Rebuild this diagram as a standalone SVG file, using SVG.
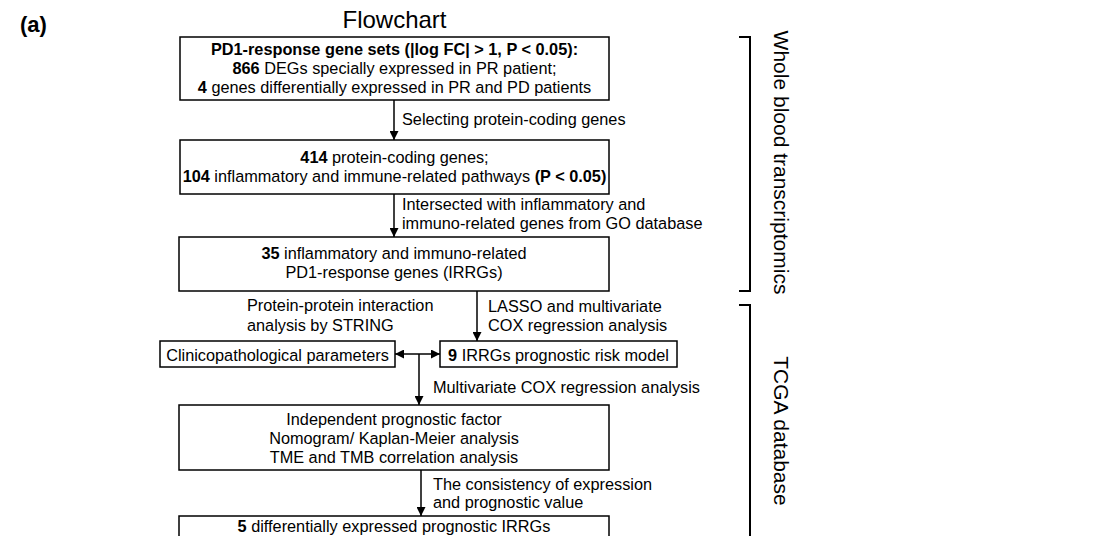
<svg xmlns="http://www.w3.org/2000/svg" width="1104" height="536" viewBox="0 0 1104 536">
<style>
text{font-family:"Liberation Sans",Arial,sans-serif;fill:#000}
.t{font-size:16.3px}
.c{text-anchor:middle}
.b{font-weight:bold}
.box{fill:#fff;stroke:#000;stroke-width:1.5}
.ln{fill:none;stroke:#000;stroke-width:1.5}
.br{fill:none;stroke:#000;stroke-width:2}
.side{font-size:21px;text-anchor:middle}
</style>
<defs>
<marker id="ah" viewBox="0 0 10 10" refX="10" refY="5" markerWidth="9" markerHeight="9" markerUnits="userSpaceOnUse" orient="auto-start-reverse">
<path d="M0,0 L10,5 L0,10 z" fill="#000"/>
</marker>
</defs>
<rect width="1104" height="536" fill="#fff"/>
<text x="20" y="32" font-size="22" class="b">(a)</text>
<text x="394.5" y="28" font-size="24" class="c">Flowchart</text>

<g id="connectors">
<line class="ln" x1="394" y1="100" x2="394" y2="140" marker-end="url(#ah)"/>
<line class="ln" x1="394" y1="194" x2="394" y2="237" marker-end="url(#ah)"/>
<line class="ln" x1="477" y1="291" x2="477" y2="341" marker-end="url(#ah)"/>
<line class="ln" x1="395" y1="354" x2="440" y2="354" marker-start="url(#ah)" marker-end="url(#ah)"/>
<line class="ln" x1="419" y1="354" x2="419" y2="405" marker-end="url(#ah)"/>
<line class="ln" x1="421" y1="470" x2="421" y2="516" marker-end="url(#ah)"/>
<text class="t" x="402" y="125">Selecting protein-coding genes</text>
<text class="t" x="402" y="210">Intersected with inflammatory and</text>
<text class="t" x="402" y="229">immuno-related genes from GO database</text>
<text class="t" x="488" y="312">LASSO and multivariate</text>
<text class="t" x="488" y="331">COX regression analysis</text>
<text class="t" x="247" y="311">Protein-protein interaction</text>
<text class="t" x="247" y="331">analysis by STRING</text>
<text class="t" x="433" y="393">Multivariate COX regression analysis</text>
<text class="t" x="433" y="490">The consistency of expression</text>
<text class="t" x="433" y="508">and prognostic value</text>
</g>

<g id="n1">
<rect class="box" x="180" y="37" width="429" height="63"/>
<text class="t c b" x="394.5" y="55">PD1-response gene sets (|log FC| &gt; 1, P &lt; 0.05):</text>
<text class="t c" x="394.5" y="74"><tspan class="b">866</tspan> DEGs specially expressed in PR patient;</text>
<text class="t c" x="394.5" y="93"><tspan class="b">4</tspan> genes differentially expressed in PR and PD patients</text>
</g>

<g id="n2">
<rect class="box" x="180" y="140" width="429" height="54"/>
<text class="t c" x="394.5" y="163"><tspan class="b">414</tspan> protein-coding genes;</text>
<text class="t c" x="394.5" y="182"><tspan class="b">104</tspan> inflammatory and immune-related pathways <tspan class="b">(P &lt; 0.05)</tspan></text>
</g>

<g id="n3">
<rect class="box" x="179" y="237" width="430" height="54"/>
<text class="t c" x="394" y="259"><tspan class="b">35</tspan> inflammatory and immuno-related</text>
<text class="t c" x="394" y="278">PD1-response genes (IRRGs)</text>
</g>

<g id="n4">
<rect class="box" x="160" y="341" width="235" height="26"/>
<text class="t c" x="277.5" y="361">Clinicopathological parameters</text>
</g>

<g id="n5">
<rect class="box" x="440" y="341" width="237" height="26"/>
<text class="t c" x="558.5" y="361"><tspan class="b">9</tspan> IRRGs prognostic risk model</text>
</g>

<g id="n6">
<rect class="box" x="179" y="405" width="430" height="65"/>
<text class="t c" x="394" y="425">Independent prognostic factor</text>
<text class="t c" x="394" y="444">Nomogram/ Kaplan-Meier analysis</text>
<text class="t c" x="394" y="463">TME and TMB correlation analysis</text>
</g>

<g id="n7">
<rect class="box" x="179" y="516" width="430" height="30"/>
<text class="t c" x="394" y="532"><tspan class="b">5</tspan> differentially expressed prognostic IRRGs</text>
</g>

<g id="brackets">
<path class="br" d="M739,37 H750 V291 H739"/>
<path class="br" d="M739,305 H750 V540"/>
<text class="side" transform="translate(774,162.5) rotate(90)">Whole blood transcriptomics</text>
<text class="side" transform="translate(774,431) rotate(90)">TCGA database</text>
</g>
</svg>
